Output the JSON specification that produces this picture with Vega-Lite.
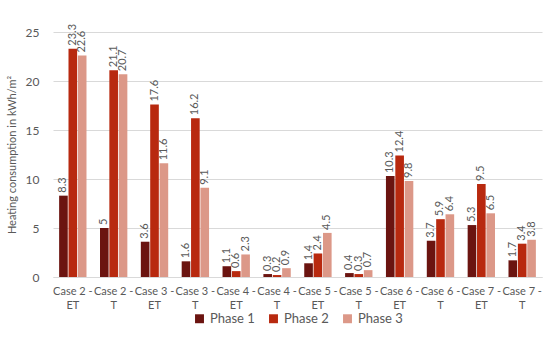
{
  "$schema": "https://vega.github.io/schema/vega-lite/v6.json",
  "width": 550,
  "height": 338,
  "autosize": {"type": "fit", "contains": "padding"},
  "padding": {"left": 6, "right": 8, "top": 26, "bottom": 12},
  "background": "white",
  "data": {
    "values": [
      {"case": "Case 2 - ET", "phase": "Phase 1", "value": 8.3},
      {"case": "Case 2 - ET", "phase": "Phase 2", "value": 23.3},
      {"case": "Case 2 - ET", "phase": "Phase 3", "value": 22.6},
      {"case": "Case 2 - T", "phase": "Phase 1", "value": 5},
      {"case": "Case 2 - T", "phase": "Phase 2", "value": 21.1},
      {"case": "Case 2 - T", "phase": "Phase 3", "value": 20.7},
      {"case": "Case 3 - ET", "phase": "Phase 1", "value": 3.6},
      {"case": "Case 3 - ET", "phase": "Phase 2", "value": 17.6},
      {"case": "Case 3 - ET", "phase": "Phase 3", "value": 11.6},
      {"case": "Case 3 - T", "phase": "Phase 1", "value": 1.6},
      {"case": "Case 3 - T", "phase": "Phase 2", "value": 16.2},
      {"case": "Case 3 - T", "phase": "Phase 3", "value": 9.1},
      {"case": "Case 4 - ET", "phase": "Phase 1", "value": 1.1},
      {"case": "Case 4 - ET", "phase": "Phase 2", "value": 0.6},
      {"case": "Case 4 - ET", "phase": "Phase 3", "value": 2.3},
      {"case": "Case 4 - T", "phase": "Phase 1", "value": 0.3},
      {"case": "Case 4 - T", "phase": "Phase 2", "value": 0.2},
      {"case": "Case 4 - T", "phase": "Phase 3", "value": 0.9},
      {"case": "Case 5 - ET", "phase": "Phase 1", "value": 1.4},
      {"case": "Case 5 - ET", "phase": "Phase 2", "value": 2.4},
      {"case": "Case 5 - ET", "phase": "Phase 3", "value": 4.5},
      {"case": "Case 5 - T", "phase": "Phase 1", "value": 0.4},
      {"case": "Case 5 - T", "phase": "Phase 2", "value": 0.3},
      {"case": "Case 5 - T", "phase": "Phase 3", "value": 0.7},
      {"case": "Case 6 - ET", "phase": "Phase 1", "value": 10.3},
      {"case": "Case 6 - ET", "phase": "Phase 2", "value": 12.4},
      {"case": "Case 6 - ET", "phase": "Phase 3", "value": 9.8},
      {"case": "Case 6 - T", "phase": "Phase 1", "value": 3.7},
      {"case": "Case 6 - T", "phase": "Phase 2", "value": 5.9},
      {"case": "Case 6 - T", "phase": "Phase 3", "value": 6.4},
      {"case": "Case 7 - ET", "phase": "Phase 1", "value": 5.3},
      {"case": "Case 7 - ET", "phase": "Phase 2", "value": 9.5},
      {"case": "Case 7 - ET", "phase": "Phase 3", "value": 6.5},
      {"case": "Case 7 - T", "phase": "Phase 1", "value": 1.7},
      {"case": "Case 7 - T", "phase": "Phase 2", "value": 3.4},
      {"case": "Case 7 - T", "phase": "Phase 3", "value": 3.8}
    ]
  },
  "encoding": {
    "x": {
      "field": "case", "type": "nominal", "sort": null, "title": null,
      "scale": {"paddingInner": 0.33, "paddingOuter": 0.15},
      "axis": {
        "labelAngle": 0, "ticks": false, "domainColor": "#D9D9D9",
        "labelColor": "#595959", "labelFontSize": 11, "labelFont": "Lato",
        "labelLineHeight": 14, "labelPadding": 8, "labelOverlap": false,
        "labelExpr": "[substring(datum.label, 0, 8), substring(datum.label, 9)]"
      }
    },
    "xOffset": {"field": "phase", "type": "nominal", "scale": {"paddingInner": 0.08}},
    "y": {
      "field": "value", "type": "quantitative",
      "scale": {"domain": [0, 25], "nice": false},
      "title": "Heating consumption in kWh/m²",
      "axis": {
        "values": [0, 5, 10, 15, 20, 25], "ticks": false, "domain": false,
        "gridColor": "#D9D9D9", "labelColor": "#595959", "labelFontSize": 12,
        "labelFont": "Lato", "labelPadding": 14,
        "titleColor": "#595959", "titleFontSize": 11, "titleFontWeight": "normal",
        "titleFont": "Lato", "titlePadding": 8
      }
    },
    "color": {
      "field": "phase", "type": "nominal",
      "scale": {"domain": ["Phase 1", "Phase 2", "Phase 3"], "range": ["#6B1410", "#B8290F", "#DC9888"]},
      "legend": {
        "orient": "bottom", "direction": "horizontal", "title": null,
        "symbolType": "square", "symbolSize": 80, "symbolStrokeWidth": 0,
        "labelColor": "#595959", "labelFontSize": 13, "labelFont": "Lato",
        "columnPadding": 12, "offset": 2, "padding": 0
      }
    }
  },
  "layer": [
    {"mark": {"type": "bar"}},
    {
      "mark": {"type": "text", "angle": 270, "align": "left", "baseline": "middle", "dx": 3, "fontSize": 11, "font": "Lato", "color": "#595959"},
      "encoding": {"text": {"field": "value", "type": "quantitative"}, "color": {"value": "#595959"}}
    }
  ],
  "config": {
    "view": {"stroke": null},
    "legend": {"layout": {"bottom": {"anchor": "middle"}}}
  }
}
